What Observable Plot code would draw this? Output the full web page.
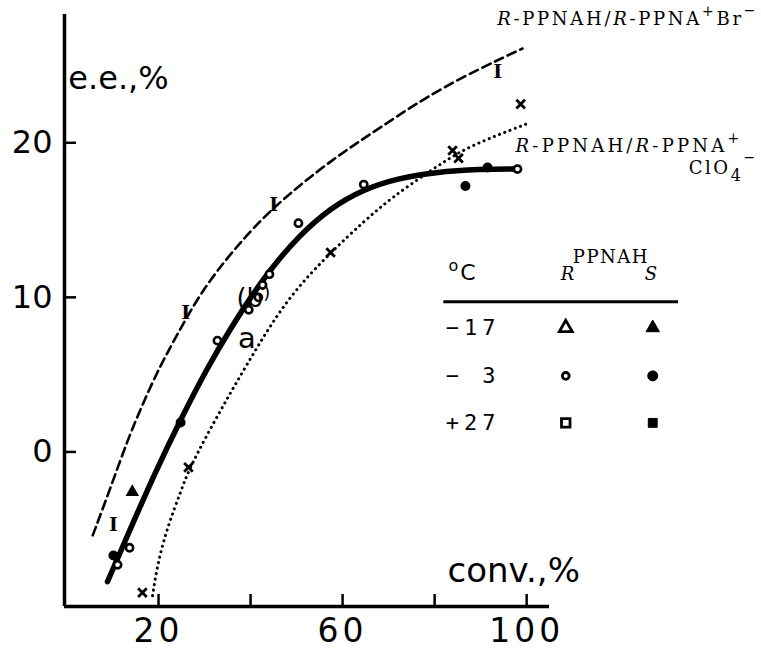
<!DOCTYPE html>
<html><head><meta charset="utf-8">
<script src="https://cdn.jsdelivr.net/npm/d3@7"></script>
<script src="https://cdn.jsdelivr.net/npm/@observablehq/plot@0.6"></script>
<style>
body{margin:0;background:#fff;}
#chart svg{display:block}
g[aria-label="x-axis tick label"] text{letter-spacing:4px}
</style></head><body><div id="chart"></div>
<script>
// axes
const xDomain = [0, 105.4];
const yDomain = [-10, 28.3];
const xTicks = [20, 40, 60, 80, 100];
const xTickLabels = [20, 60, 100];
const yTicks = [0, 10, 20];

// solid fitted curve
const solidConv = [8.9, 14, 19.3, 24.8, 30.7, 35.7, 40, 44.3, 50.2, 57.4, 64.6, 72, 80, 90, 98];
const solidEe   = [-8.4, -4.9, -1.3, 2.1, 5.5, 8.0, 10.0, 11.8, 13.9, 15.8, 17.0, 17.7, 18.1, 18.3, 18.3];
// dashed curve: R-PPNAH/R-PPNA+Br-
const brConv = [5.7, 9.6, 13.3, 16.7, 20.4, 24.1, 29.1, 36.3, 45, 58, 68.3, 81.3, 99.1];
const brEe   = [-5.4, -2.3, 0.8, 3.2, 5.6, 7.6, 10.3, 13.1, 15.9, 19.0, 21.0, 23.6, 26.1];
// dotted curve: R-PPNAH/R-PPNA+ ClO4-
const clo4Conv = [18.7, 19.8, 22.0, 24.8, 26.5, 30.7, 35, 39.3, 44.3, 50, 57.4, 64.6, 70.4, 79.1, 86.3, 93.7, 99.8];
const clo4Ee   = [-9.3, -7.2, -4.8, -2.6, -1.2, 1.2, 3.5, 5.7, 8.2, 10.6, 12.9, 14.9, 16.4, 18.2, 19.6, 20.5, 21.2];

// markers
const brMarkConv = [10.2, 25.9, 45, 93.7];
const brMarkEe   = [-4.7, 9.0, 16.0, 24.6];
const clo4MarkConv = [16.5, 26.5, 57.4, 83.9, 85.2, 98.7];
const clo4MarkEe   = [-9.1, -1.0, 12.9, 19.5, 19.0, 22.5];
const openCircConv = [11.1, 13.7, 32.8, 39.6, 41.7, 42.6, 44.1, 50.4, 64.6, 98];
const openCircEe   = [-7.3, -6.2, 7.2, 9.2, 10.0, 10.8, 11.5, 14.8, 17.3, 18.3];
const fillCircConv = [10.2, 24.8, 86.7, 91.5];
const fillCircEe   = [-6.7, 1.9, 17.2, 18.4];
const fillTriConv = [14.3];
const fillTriEe   = [-2.6];

// texts
const yAxisTitle = "e.e.,%";
const xAxisTitle = "conv.,%";
const brLabel = "R-PPNAH/R-PPNA+Br−";
const clo4Label1 = "R-PPNAH/R-PPNA+";
const clo4Label2 = "ClO4−";
const annoA = "a";
const annoB = "(b";

// legend table
const legendTitle = "PPNAH";
const legendTempHead = "°C";
const legendCols = ["R", "S"];
const legendTemps = ["−17", "− 3", "+27"];
const legendSymbols = ["triangle", "circle", "square"];

const pts = (xs, ys) => xs.map((x, i) => ({x, y: ys[i]}));

const W = 761, H = 650, mL = 66, mR = 210, mT = 14, mB = 44;
const FW = W - mL - mR, FH = H - mT - mB;

// annotation / legend anchor positions (data space)
const lgRowX = 82.4, lgColRX = 108.5, lgColSX = 127.4, lgTitleX = 118.3;
const lgTitleY = 12.23, lgHeadY = 11.13, lgLineY = 9.71, lgLineX = [82.0, 133.0];
const lgRowY = [8.03, 4.92, 1.88];

const serif = "DejaVu Serif";

const legendMarks = [];
legendSymbols.forEach((s, i) => {
  const rOpen = s === "circle" ? 3.4 : 4.8;
  legendMarks.push(Plot.dot([0], {x: () => lgColRX, y: () => lgRowY[i], symbol: s, r: rOpen, stroke: "black", fill: "white", strokeWidth: 2.8}));
  legendMarks.push(Plot.dot([0], {x: () => lgColSX, y: () => lgRowY[i], symbol: s, r: 5, fill: "black", stroke: "black", strokeWidth: 1}));
});

const chart = Plot.plot({
  width: W, height: H,
  marginLeft: mL, marginRight: mR, marginTop: mT, marginBottom: mB,
  x: {domain: xDomain, label: null},
  y: {domain: yDomain, label: null},
  style: {background: "#fff", color: "#000", fontFamily: "DejaVu Sans"},
  marks: [
    Plot.ruleX([xDomain[0]], {y1: yDomain[0], y2: yDomain[1], strokeWidth: 3.5, dx: -2}),
    Plot.ruleY([yDomain[0]], {x1: xDomain[0], x2: xDomain[1], strokeWidth: 3.5, dx: -2}),
    Plot.tickX(xTicks, {x: d => d, insetTop: FH - 12, strokeWidth: 2.5}),
    Plot.tickY(yTicks, {y: d => d, insetRight: FW - 12, strokeWidth: 2.5, dx: -2}),
    Plot.axisX({ticks: xTickLabels, tickSize: 0, tickPadding: 12, fontSize: 33, fontFamily: "DejaVu Sans", label: null}),
    Plot.axisY({ticks: yTicks, tickSize: 0, tickPadding: 14, fontSize: 32, fontFamily: "DejaVu Sans", label: null}),

    Plot.line(pts(brConv, brEe), {x: "x", y: "y", curve: "basis", strokeWidth: 2.6, strokeDasharray: "9,5"}),
    Plot.line(pts(clo4Conv, clo4Ee), {x: "x", y: "y", curve: "basis", strokeWidth: 3, strokeDasharray: "0.1,5.5", strokeLinecap: "round"}),
    Plot.line(pts(solidConv, solidEe), {x: "x", y: "y", curve: "basis", strokeWidth: 5.5, strokeLinecap: "round"}),

    Plot.text(pts(brMarkConv, brMarkEe), {x: "x", y: "y", text: () => "I", fontFamily: serif, fontWeight: "bold", fontSize: 19}),
    Plot.dot(pts(clo4MarkConv, clo4MarkEe), {x: "x", y: "y", symbol: "times", r: 4, stroke: "black", strokeWidth: 2.8}),
    Plot.dot(pts(openCircConv, openCircEe), {x: "x", y: "y", r: 3.6, stroke: "black", fill: "white", strokeWidth: 2.6}),
    Plot.dot(pts(fillCircConv, fillCircEe), {x: "x", y: "y", r: 5, fill: "black"}),
    Plot.dot(pts(fillTriConv, fillTriEe), {x: "x", y: "y", symbol: "triangle", r: 5, fill: "black"}),

    Plot.text([yAxisTitle], {x: 0.4, y: 23.5, text: d => d, textAnchor: "start", lineAnchor: "bottom", fontSize: 32}),
    Plot.text([xAxisTitle], {x: 82.8, y: -8.4, text: d => d, textAnchor: "start", lineAnchor: "bottom", fontSize: 34}),
    Plot.text([annoA], {x: 39.2, y: 7.3, text: d => d, fontSize: 29}),
    Plot.text([annoB], {x: 40.6, y: 9.9, text: d => d, fontSize: 26}),

    Plot.text([brLabel], {x: 93.6, y: 27.6, text: d => d, textAnchor: "start", lineAnchor: "bottom", fontFamily: serif, fontSize: 18}),
    Plot.text([clo4Label1], {x: 97.6, y: 19.4, text: d => d, textAnchor: "start", lineAnchor: "bottom", fontFamily: serif, fontSize: 18}),
    Plot.text([clo4Label2], {x: 135.2, y: 18.0, text: d => d, textAnchor: "start", lineAnchor: "bottom", fontFamily: serif, fontSize: 18}),

    Plot.text([legendTitle], {x: lgTitleX, y: lgTitleY, text: d => d, lineAnchor: "bottom", fontFamily: serif, fontSize: 18}),
    Plot.text([legendTempHead], {x: 83.0, y: lgHeadY, text: d => d, textAnchor: "start", lineAnchor: "bottom", fontSize: 22}),
    Plot.text(legendCols, {x: (d, i) => i === 0 ? 108.9 : 127.0, y: lgHeadY, text: d => d, lineAnchor: "bottom", fontFamily: serif, fontStyle: "italic", fontSize: 18}),
    Plot.ruleY([lgLineY], {x1: lgLineX[0], x2: lgLineX[1], strokeWidth: 3}),
    Plot.text(legendTemps, {x: lgRowX, y: (d, i) => lgRowY[i], text: d => d, textAnchor: "start", fontFamily: "DejaVu Sans Mono", fontSize: 22}),
    ...legendMarks
  ]
});

// rich text (superscripts, subscripts, italics)
const it = s => `<tspan font-style="italic">${s}</tspan>`;
const rich = {
  [brLabel]: `${it("R")}-PPNAH/${it("R")}-PPNA<tspan dy="-9" font-size="14">+</tspan><tspan dy="9">Br</tspan><tspan dy="-10" font-size="14" style="letter-spacing:0">−</tspan>`,
  [clo4Label1]: `${it("R")}-PPNAH/${it("R")}-PPNA<tspan dy="-9" font-size="14">+</tspan>`,
  [clo4Label2]: `ClO<tspan dy="7" font-size="16">4</tspan><tspan dy="-19" font-size="14" style="letter-spacing:0">−</tspan>`,
  [legendTempHead]: `<tspan dy="-9" font-size="16">o</tspan><tspan dy="9" dx="2">C</tspan>`,
  [annoB]: `(b<tspan dy="-8" font-size="18">)</tspan>`
};
const spacing = {[brLabel]: "2.7px", [clo4Label1]: "3.2px", [clo4Label2]: "2.6px", [legendTitle]: "1.5px", "−17": "5px", "− 3": "5px", "+27": "5px"};
chart.querySelectorAll("text").forEach(t => {
  const c = t.textContent;
  if (rich[c]) t.innerHTML = rich[c];
  if (spacing[c]) t.style.letterSpacing = spacing[c];
});
document.getElementById("chart").appendChild(chart);
</script></body></html>
